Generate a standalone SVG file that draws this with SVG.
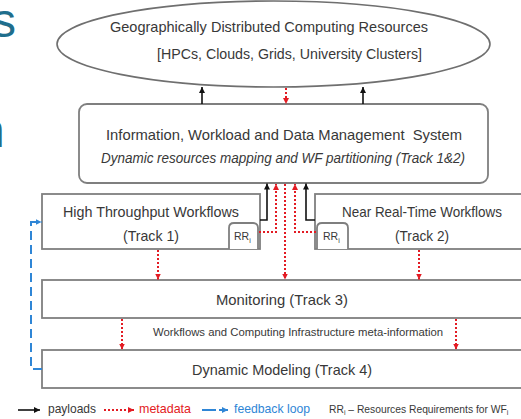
<svg xmlns="http://www.w3.org/2000/svg" width="521" height="419" viewBox="0 0 521 419">
  <style>
    text { font-family: "Liberation Sans", Arial, sans-serif; fill: #383838; }
    .lbl { font-size: 15px; }
    .ital { font-size: 14.5px; font-style: italic; }
    .small { font-size: 11.5px; }
    .rr { font-size: 10.5px; }
    .sub { font-size: 7px; }
    .box { fill: #ffffff; stroke: #7f7f7f; stroke-width: 1.8; }
    .pay { fill: none; stroke: #111111; stroke-width: 1.6; }
    .meta { fill: none; stroke: #e31b23; stroke-width: 2; stroke-dasharray: 2 2; }
    .fb { fill: none; stroke: #2f86d6; stroke-width: 2; stroke-dasharray: 9 5; }
    .title { font-family: "Liberation Sans", Arial, sans-serif; font-size: 48px; fill: #1f6e8c; }
  </style>
  <defs>
    <marker id="ahBlack" viewBox="0 0 6 6" refX="6" refY="3" markerWidth="6" markerHeight="6" markerUnits="userSpaceOnUse" orient="auto">
      <path d="M0,0 L6,3 L0,6 z" fill="#111111"/>
    </marker>
    <marker id="ahRed" viewBox="0 0 6 6" refX="6" refY="3" markerWidth="6" markerHeight="6" markerUnits="userSpaceOnUse" orient="auto">
      <path d="M0,0 L6,3 L0,6 z" fill="#e31b23"/>
    </marker>
    <marker id="ahBlue" viewBox="0 0 6 6" refX="6" refY="3" markerWidth="6" markerHeight="6" markerUnits="userSpaceOnUse" orient="auto">
      <path d="M0,0 L6,3 L0,6 z" fill="#2f86d6"/>
    </marker>
  </defs>

  <rect x="0" y="0" width="521" height="419" fill="#ffffff"/>

  <!-- slide title letters running off the left edge -->
  <text class="title" x="-8" y="37">s</text>
  <text class="title" x="-22" y="147">n</text>

  <g id="resources">
    <ellipse cx="273.5" cy="44" rx="216.5" ry="43" fill="#ffffff" stroke="#6f6f6f" stroke-width="1.6"/>
    <text class="lbl" x="269" y="32" text-anchor="middle" textLength="318" lengthAdjust="spacingAndGlyphs">Geographically Distributed Computing Resources</text>
    <text class="lbl" x="289.5" y="59" text-anchor="middle" textLength="265" lengthAdjust="spacingAndGlyphs">[HPCs, Clouds, Grids, University Clusters]</text>
  </g>

  <g id="management">
    <rect class="box" x="79" y="104" width="409" height="79" rx="8" ry="8"/>
    <text class="lbl" x="284" y="140" text-anchor="middle" textLength="356" lengthAdjust="spacingAndGlyphs" xml:space="preserve">Information, Workload and Data Management  System</text>
    <text class="ital" x="283" y="163" text-anchor="middle" textLength="364" lengthAdjust="spacingAndGlyphs">Dynamic resources mapping and WF partitioning (Track 1&amp;2)</text>
  </g>

  <g id="high-throughput">
    <rect class="box" x="42" y="194" width="218" height="55"/>
    <text class="lbl" x="151" y="217" text-anchor="middle" textLength="176" lengthAdjust="spacingAndGlyphs">High Throughput Workflows</text>
    <text class="lbl" x="151" y="241" text-anchor="middle" textLength="56" lengthAdjust="spacingAndGlyphs">(Track 1)</text>
    <path class="box" d="M229,249 V228 Q229,223 234,223 H253 Q258,223 258,228 V249"/>
    <text class="rr" x="234" y="240">RR<tspan class="sub" dy="3">i</tspan></text>
  </g>

  <g id="near-real-time">
    <rect class="box" x="315" y="194" width="215" height="55"/>
    <text class="lbl" x="422" y="217" text-anchor="middle" textLength="160" lengthAdjust="spacingAndGlyphs">Near Real-Time Workflows</text>
    <text class="lbl" x="422" y="241" text-anchor="middle" textLength="54" lengthAdjust="spacingAndGlyphs">(Track 2)</text>
    <path class="box" d="M317,249 V228 Q317,223 322,223 H343 Q348,223 348,228 V249"/>
    <text class="rr" x="323" y="240">RR<tspan class="sub" dy="3">i</tspan></text>
  </g>

  <g id="monitoring">
    <rect class="box" x="42" y="280" width="488" height="38"/>
    <text class="lbl" x="282" y="305" text-anchor="middle" textLength="132" lengthAdjust="spacingAndGlyphs">Monitoring (Track 3)</text>
  </g>

  <g id="meta-info">
    <text class="small" x="298" y="336" text-anchor="middle" textLength="290" lengthAdjust="spacingAndGlyphs">Workflows and Computing Infrastructure meta-information</text>
  </g>

  <g id="dynamic-modeling">
    <rect class="box" x="42" y="350" width="488" height="38"/>
    <text class="lbl" x="282" y="375" text-anchor="middle" textLength="180" lengthAdjust="spacingAndGlyphs">Dynamic Modeling (Track 4)</text>
  </g>

  <g id="connectors">
    <!-- management system to computing resources -->
    <path class="pay" d="M202,104 V87" marker-end="url(#ahBlack)"/>
    <path class="pay" d="M363,104 V87" marker-end="url(#ahBlack)"/>
    <path class="meta" d="M286,88 V104" marker-end="url(#ahRed)"/>

    <!-- workflows to management system -->
    <path class="pay" d="M260,220 H267 V183.5" marker-end="url(#ahBlack)"/>
    <path class="meta" d="M259,232 H276 V184" marker-end="url(#ahRed)"/>
    <path class="pay" d="M315,220 H306 V183.5" marker-end="url(#ahBlack)"/>
    <path class="meta" d="M316,232 H295 V184" marker-end="url(#ahRed)"/>

    <!-- down to monitoring -->
    <path class="meta" d="M285,184 V279.5" marker-end="url(#ahRed)"/>
    <path class="meta" d="M158,250 V279.5" marker-end="url(#ahRed)"/>
    <path class="meta" d="M419,250 V279.5" marker-end="url(#ahRed)"/>

    <!-- monitoring to modeling -->
    <path class="meta" d="M122,319 V349.5" marker-end="url(#ahRed)"/>
    <path class="meta" d="M456,319 V349.5" marker-end="url(#ahRed)"/>

    <!-- feedback loop -->
    <path class="fb" d="M42,369 H31 V222 H41.5" marker-end="url(#ahBlue)"/>
  </g>

  <g id="legend">
    <path class="pay" d="M18,410 H40" marker-end="url(#ahBlack)"/>
    <text x="48" y="413" font-size="13" textLength="48" lengthAdjust="spacingAndGlyphs">payloads</text>
    <path class="meta" d="M104,410 H134" marker-end="url(#ahRed)"/>
    <text x="139" y="413" font-size="13" textLength="52" lengthAdjust="spacingAndGlyphs" style="fill:#e31b23">metadata</text>
    <path class="fb" d="M202,410 H228" style="stroke-dasharray:14 3" marker-end="url(#ahBlue)"/>
    <text x="234" y="413" font-size="13" textLength="76" lengthAdjust="spacingAndGlyphs" style="fill:#2f86d6">feedback loop</text>
    <text x="329" y="413" font-size="10.3">RR<tspan font-size="7" dy="2">i</tspan><tspan dy="-2"> – Resources Requirements for WF</tspan><tspan font-size="7" dy="2">i</tspan></text>
  </g>
</svg>
